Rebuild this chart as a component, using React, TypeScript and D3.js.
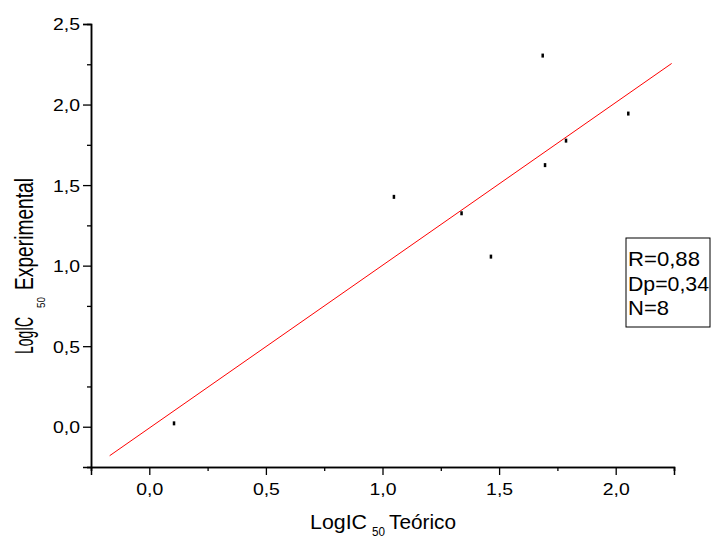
import React, { useEffect, useRef } from "react";
import { select, scaleLinear, axisLeft, axisBottom, range } from "d3";

// values
const teorico = [0.106, 1.049, 1.339, 1.465, 1.687, 1.697, 1.787, 2.054];
const experimental = [0.021, 1.427, 1.325, 1.056, 2.304, 1.624, 1.776, 1.944];
const fitX = [-0.17, 2.24];
const fitY = [-0.18, 2.255];
const xMajor = [0, 0.5, 1, 1.5, 2];
const xMinor = [-0.25, 0.25, 0.75, 1.25, 1.75, 2.25];
const yMajor = [0, 0.5, 1, 1.5, 2, 2.5];
const yMinor = [-0.25, 0.25, 0.75, 1.25, 1.75, 2.25];
const statLines = ["R=0,88", "Dp=0,34", "N=8"];
const statWidths = [72, 81, 41];

const W = 711;
const H = 539;
const FONT = "'Liberation Sans', Arial, sans-serif";

const fmt = (d: number) => d.toFixed(1).replace(".", ",");

const Chart = () => {
  const svgRef = useRef<SVGSVGElement>(null);

  useEffect(() => {
    const svg = select(svgRef.current);
    svg.selectAll("*").remove();

    const x = scaleLinear().domain([-0.25, 2.25]).range([91, 674]);
    const y = scaleLinear().domain([-0.25, 2.5]).range([467, 24]);

    // minor ticks first, then major with labels
    const xMin = axisBottom(x).tickValues(xMinor).tickSize(4).tickFormat(() => "");
    const xMaj = axisBottom(x).tickValues(xMajor).tickSize(8).tickFormat((d) => fmt(+d));
    const yMin = axisLeft(y).tickValues(yMinor).tickSize(4).tickFormat(() => "");
    const yMaj = axisLeft(y).tickValues(yMajor).tickSize(8).tickFormat((d) => fmt(+d));

    const gx = svg.append("g").attr("transform", `translate(0,${y(-0.25)})`);
    gx.append("g").call(xMin);
    gx.append("g").call(xMaj);
    const gy = svg.append("g").attr("transform", `translate(${x(-0.25)},0)`);
    gy.append("g").call(yMin);
    gy.append("g").call(yMaj);

    svg.selectAll(".domain").attr("stroke", "#000").attr("stroke-width", 1.5);
    svg.selectAll(".tick line").attr("stroke", "#000").attr("stroke-width", 1.3);
    svg
      .selectAll(".tick text")
      .attr("font-family", FONT)
      .attr("font-size", 16.5)
      .attr("fill", "#000")
      .attr("textLength", 27)
      .attr("lengthAdjust", "spacingAndGlyphs");
    gx.selectAll(".tick text").attr("y", 16).attr("dy", "0.71em");
    gy.selectAll(".tick text").attr("x", -11).attr("dy", "0.36em");

    // regression line
    svg
      .append("line")
      .attr("x1", x(fitX[0]))
      .attr("y1", y(fitY[0]))
      .attr("x2", x(fitX[1]))
      .attr("y2", y(fitY[1]))
      .attr("stroke", "#ff0000")
      .attr("stroke-width", 1);

    // points
    svg
      .selectAll(".pt")
      .data(range(teorico.length))
      .join("rect")
      .attr("class", "pt")
      .attr("x", (i) => x(teorico[i]) - 1.25)
      .attr("y", (i) => y(experimental[i]) - 2)
      .attr("width", 2.5)
      .attr("height", 4)
      .attr("fill", "#000");

    // stats box
    svg
      .append("rect")
      .attr("x", 626)
      .attr("y", 238)
      .attr("width", 84)
      .attr("height", 89)
      .attr("fill", "none")
      .attr("stroke", "#000")
      .attr("stroke-width", 1);
    svg
      .selectAll(".stat")
      .data(statLines)
      .join("text")
      .attr("class", "stat")
      .attr("x", 628)
      .attr("y", (d, i) => 266 + i * 24.5)
      .attr("font-family", FONT)
      .attr("font-size", 21)
      .attr("textLength", (d, i) => statWidths[i])
      .attr("lengthAdjust", "spacingAndGlyphs")
      .text((d) => d);

    // x title
    const xt = svg.append("g").attr("font-family", FONT).attr("fill", "#000");
    xt.append("text").attr("x", 310).attr("y", 529).attr("font-size", 19.5)
      .attr("textLength", 57).attr("lengthAdjust", "spacingAndGlyphs").text("LogIC");
    xt.append("text").attr("x", 372).attr("y", 536).attr("font-size", 12)
      .attr("textLength", 13).attr("lengthAdjust", "spacingAndGlyphs").text("50");
    xt.append("text").attr("x", 389).attr("y", 529).attr("font-size", 19.5)
      .attr("textLength", 67).attr("lengthAdjust", "spacingAndGlyphs").text("Teórico");

    // y title (rotated)
    const yt = svg.append("g").attr("font-family", FONT).attr("fill", "#000");
    yt.append("text").attr("transform", "translate(33,354) rotate(-90)").attr("font-size", 25)
      .attr("textLength", 37).attr("lengthAdjust", "spacingAndGlyphs").text("LogIC");
    yt.append("text").attr("transform", "translate(45,308) rotate(-90)").attr("font-size", 10)
      .attr("textLength", 11).attr("lengthAdjust", "spacingAndGlyphs").text("50");
    yt.append("text").attr("transform", "translate(33,290) rotate(-90)").attr("font-size", 25)
      .attr("textLength", 112).attr("lengthAdjust", "spacingAndGlyphs").text("Experimental");
  }, []);

  return (
    <svg
      ref={svgRef}
      width={W}
      height={H}
      style={{ position: "absolute", left: 0, top: 0, background: "#fff" }}
    />
  );
};

export default function App() {
  return <Chart />;
}
